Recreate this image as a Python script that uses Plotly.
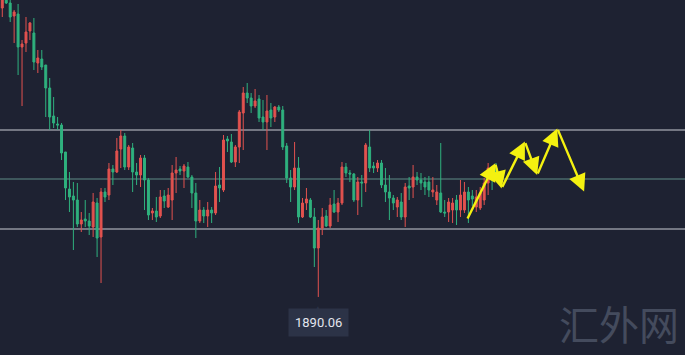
import plotly.graph_objects as go

# ---- data (price values) ----
opens = [1962.3,1964.8,1963.55,1960.3,1960.8,1952.55,1953.55,1956.55,1956.05,1948.55,
         1949.55,1948.05,1942.3,1935.3,1933.3,1933.05,1926.3,1917.05,1915.3,1914.3,
         1908.3,1909.55,1909.05,1907.55,1913.55,1905.05,1916.3,1915.55,1922.05,1921.3,
         1927.05,1930.3,1922.55,1927.3,1921.3,1920.55,1924.8,1919.3,1911.05,1911.55,
         1910.3,1915.3,1912.55,1914.3,1921.05,1922.05,1921.55,1922.55,1920.05,1916.05,
         1909.05,1911.8,1910.3,1911.8,1911.05,1918.05,1916.8,1929.55,1928.8,1923.8,
         1927.55,1936.05,1941.05,1939.8,1937.8,1939.55,1935.05,1933.8,1936.8,1935.05,
         1937.55,1936.8,1927.8,1919.8,1917.55,1922.3,1910.05,1913.55,1914.3,1910.05,
         1902.3,1907.3,1910.3,1907.8,1913.3,1911.3,1913.55,1922.55,1921.05,1920.8,
         1914.3,1918.8,1918.55,1927.55,1922.8,1922.3,1923.55,1918.05,1916.3,1914.8,
         1912.55,1913.8,1910.05,1917.8,1917.55,1920.05,1919.3,1918.8,1918.8,1916.3,
         1914.3,1916.05,1911.3,1911.3,1911.8,1914.3,1911.8,1911.8,1916.3,1915.3,
         1912.55,1912.3,1914.3,1918.55,1921.05,1922.3]
highs = [1966.3,1965.55,1964.3,1961.8,1963.3,1954.3,1960.05,1958.8,1959.8,1951.8,
         1951.8,1948.05,1944.8,1940.05,1935.05,1933.55,1926.3,1921.3,1918.8,1918.55,
         1911.3,1914.3,1911.05,1916.05,1914.8,1917.3,1917.3,1923.55,1923.05,1929.8,
         1931.8,1931.05,1928.05,1928.55,1923.55,1925.55,1925.55,1919.8,1912.3,1915.05,
         1916.8,1916.8,1917.3,1923.05,1925.05,1922.8,1923.3,1923.8,1920.55,1918.55,
         1914.3,1912.55,1913.8,1912.55,1921.3,1922.55,1930.55,1930.3,1930.8,1928.05,
         1936.8,1942.55,1943.55,1941.05,1942.05,1940.55,1939.3,1940.55,1938.55,1937.8,
         1938.05,1937.8,1928.55,1921.8,1928.8,1925.05,1914.8,1917.3,1914.8,1912.3,
         1909.3,1912.3,1911.8,1914.8,1916.8,1914.8,1923.8,1923.55,1921.8,1921.05,
         1920.05,1920.55,1928.55,1931.8,1923.8,1924.3,1924.3,1922.3,1920.55,1915.55,
         1915.05,1916.05,1918.55,1920.05,1923.05,1921.3,1921.05,1920.05,1920.3,1920.05,
         1918.05,1928.55,1914.3,1914.8,1914.8,1915.55,1919.3,1918.8,1917.55,1916.8,
         1916.8,1917.55,1919.8,1923.55,1922.55,1923.55]
lows = [1960.05,1963.3,1958.8,1953.55,1945.55,1937.8,1951.3,1954.3,1946.8,1946.05,
        1946.8,1935.05,1931.8,1932.3,1931.8,1924.3,1914.3,1911.3,1901.8,1907.55,
        1906.3,1907.55,1905.55,1905.05,1900.05,1893.55,1913.8,1914.3,1918.05,1921.05,
        1922.3,1921.8,1921.8,1916.3,1918.05,1917.55,1911.8,1909.3,1909.3,1908.8,
        1909.8,1912.3,1912.3,1909.3,1916.05,1920.55,1917.3,1919.8,1912.3,1904.8,
        1908.55,1908.55,1907.55,1908.55,1910.55,1913.8,1916.3,1926.3,1923.55,1922.55,
        1923.55,1926.8,1938.55,1936.05,1937.3,1933.8,1931.8,1926.8,1932.55,1933.8,
        1936.3,1926.8,1918.55,1913.8,1916.8,1908.55,1909.8,1911.8,1909.8,1897.55,
        1890.06,1905.55,1907.55,1907.3,1911.05,1908.8,1913.05,1920.05,1918.8,1913.8,
        1910.55,1912.55,1916.3,1921.3,1921.05,1921.3,1917.3,1913.8,1909.3,1911.8,
        1910.05,1909.3,1907.55,1914.3,1914.8,1918.05,1916.8,1915.55,1915.05,1915.05,
        1913.05,1911.05,1910.05,1908.8,1908.55,1908.05,1910.05,1911.05,1908.55,1912.8,
        1911.3,1911.8,1913.05,1915.55,1916.8,1919.3]
closes = [1965.3,1963.55,1960.05,1961.3,1952.55,1953.3,1956.3,1958.55,1948.8,1949.8,
          1947.55,1942.3,1935.05,1933.55,1933.05,1926.05,1917.3,1915.05,1914.3,1908.3,
          1909.3,1909.05,1907.8,1913.8,1904.8,1916.3,1915.05,1922.05,1921.3,1926.55,
          1930.3,1922.55,1927.55,1921.3,1920.55,1924.8,1919.3,1910.55,1911.55,1910.05,
          1915.05,1914.05,1915.55,1921.05,1921.8,1921.55,1922.8,1920.05,1916.05,1909.05,
          1911.8,1910.3,1911.8,1911.05,1917.8,1917.3,1929.3,1929.05,1923.8,1927.55,
          1936.3,1941.05,1939.8,1937.8,1939.05,1934.8,1933.8,1936.55,1934.8,1937.55,
          1936.8,1927.55,1919.8,1917.55,1922.3,1910.05,1913.55,1914.55,1910.05,1902.3,
          1907.3,1910.05,1907.8,1913.05,1911.3,1913.55,1922.55,1921.05,1920.8,1914.3,
          1918.8,1918.55,1928.05,1922.3,1922.3,1923.55,1918.05,1916.3,1914.8,1913.55,
          1914.3,1910.05,1917.55,1917.3,1920.05,1919.3,1918.55,1917.55,1916.8,1916.8,
          1916.3,1911.3,1911.05,1913.8,1913.55,1911.8,1915.55,1916.3,1914.3,1914.55,
          1915.05,1916.05,1918.55,1922.3,1919.8,1919.8]
bars = list(range(len(opens)))

levels = [1931.8, 1919.55, 1907.05]
level_colors = ["#c9ccd3", "#5f8c86", "#c9ccd3"]

# projected path (bar index, price)
path_x = [117.6, 124.8, 126.4, 132.3, 135.4, 140.5, 147.3]
path_y = [1909.3, 1923.5, 1917.2, 1928.9, 1920.55, 1932.2, 1916.4]

low_label = "1890.06"
watermark = "汇外网"

BG = "#1e2232"
UP = "#e2524f"
DOWN = "#2fb17e"

fig = go.Figure()
fig.add_trace(go.Candlestick(
    x=bars, open=opens, high=highs, low=lows, close=closes,
    increasing=dict(line=dict(color=UP, width=1), fillcolor=UP),
    decreasing=dict(line=dict(color=DOWN, width=1), fillcolor=DOWN),
    whiskerwidth=0, showlegend=False, hoverinfo="skip",
))

for lv, c in zip(levels, level_colors):
    fig.add_shape(type="line", xref="paper", x0=0, x1=1, y0=lv, y1=lv,
                  line=dict(color=c, width=1), layer="below")

for i in range(1, len(path_x)):
    fig.add_annotation(x=path_x[i], y=path_y[i], ax=path_x[i-1], ay=path_y[i-1],
                       xref="x", yref="y", axref="x", ayref="y", text="",
                       showarrow=True, arrowhead=2, arrowsize=1.45, arrowwidth=2.4,
                       arrowcolor="#f4f110", standoff=0, startstandoff=0)

low_i = lows.index(min(lows))
fig.add_annotation(x=bars[low_i], y=min(lows), xref="x", yref="y", text="▲",
                   showarrow=False, yanchor="top", yshift=-2,
                   font=dict(size=10, color="#2c3347"))
fig.add_annotation(x=bars[low_i], y=min(lows), xref="x", yref="y", text=low_label,
                   showarrow=False, yanchor="top", yshift=-11,
                   bgcolor="#2c3347", borderpad=6,
                   font=dict(size=13, color="#e3e6ee", family="Roboto, Arial"))

fig.add_annotation(x=0.903, y=0.09, xref="paper", yref="paper", text=watermark,
                   showarrow=False, xanchor="center", yanchor="middle",
                   font=dict(size=40, color="#444b5d", family="Noto Sans CJK SC"))

fig.update_layout(
    width=685, height=355, margin=dict(l=0, r=0, t=0, b=0),
    paper_bgcolor=BG, plot_bgcolor=BG,
    xaxis=dict(range=[-0.58, 172.84], visible=False, rangeslider=dict(visible=False),
               showgrid=False, zeroline=False, fixedrange=True),
    yaxis=dict(range=[1875.55, 1964.3], visible=False, showgrid=False, zeroline=False,
               fixedrange=True),
    showlegend=False,
)

fig.write_html("out.html")
